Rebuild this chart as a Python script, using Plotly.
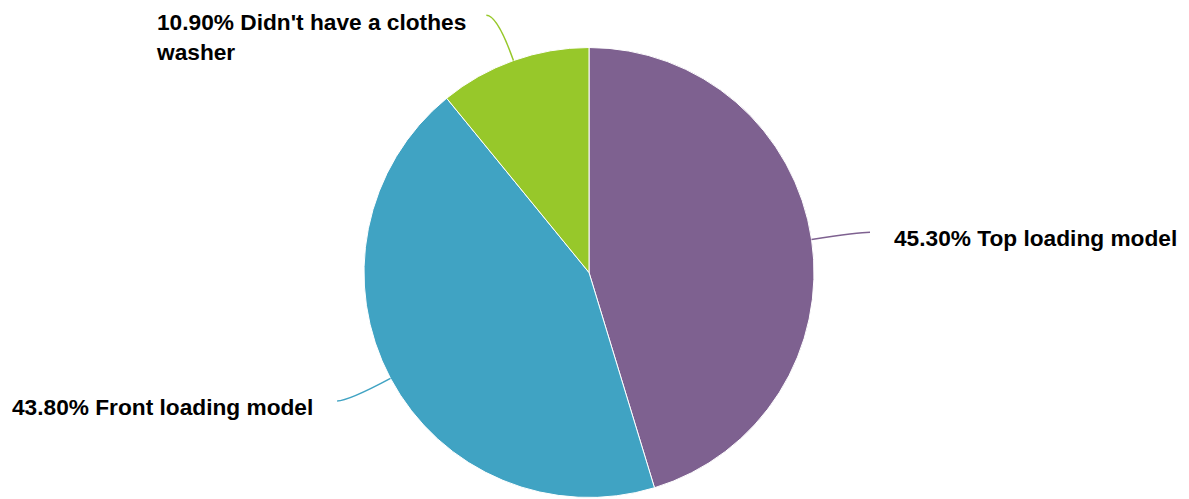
import math
import plotly.graph_objects as go

labels = ["Top loading model", "Front loading model", "Didn't have a clothes<br>washer"]
values = [45.3, 43.8, 10.9]
colors = ["#7E6190", "#40A3C3", "#97C82A"]

# page body has an 8px margin; figure is laid out in page pixels minus that offset
OFF = 8
W, H = 1189 - OFF, 499 - OFF
cx_px, cy_px, R = 589.0 - OFF, 272.5 - OFF, 225.0
dom_x = [(cx_px - R) / W, (cx_px + R) / W]
dom_y = [1 - (cy_px + R) / H, 1 - (cy_px - R) / H]

fig = go.Figure(go.Pie(
    labels=labels, values=values, sort=False, direction="clockwise", rotation=0,
    marker=dict(colors=colors, line=dict(color="white", width=1)),
    textinfo="none", hoverinfo="label+percent", showlegend=False,
    domain=dict(x=dom_x, y=dom_y),
))

def px2paper(x, y):
    return x / W, 1 - y / H

total = sum(values)
cum = 0.0
shapes, annotations = [], []
for lab, v, col in zip(labels, values, colors):
    mid = (cum + v / 2) / total * 2 * math.pi
    cum += v
    dx, dy = math.sin(mid), -math.cos(mid)
    side = 1 if dx >= 0 else -1
    sx, sy = cx_px + R * dx, cy_px + R * dy
    kx, ky = cx_px + (R + 48) * dx, cy_px + (R + 48) * dy
    ex, ey = kx + side * 11, ky
    p = [px2paper(*pt) for pt in [(sx, sy), (kx, ky), (ex, ey)]]
    shapes.append(dict(type="path", xref="paper", yref="paper",
                       path=f"M {p[0][0]},{p[0][1]} Q {p[1][0]},{p[1][1]} {p[2][0]},{p[2][1]}",
                       line=dict(color=col, width=1.5)))
    nlines = lab.count("<br>") + 1
    tx = ex + side * (22 if nlines == 1 else 18)
    ty = ey + 6 + (nlines - 1) * 16
    ax_, ay_ = px2paper(tx, ty)
    annotations.append(dict(
        x=ax_, y=ay_, xref="paper", yref="paper", showarrow=False,
        text=f"<b>{v:.2f}% {lab}</b>", align="left",
        xanchor="left" if side > 0 else "right", yanchor="middle",
        font=dict(family="Liberation Sans, Arial, sans-serif", size=22.7, color="#000000"),
    ))

fig.update_layout(
    width=W, height=H, margin=dict(l=0, r=0, t=0, b=0),
    paper_bgcolor="white", plot_bgcolor="white",
    shapes=shapes, annotations=annotations,
)
fig.write_html("out.html")
